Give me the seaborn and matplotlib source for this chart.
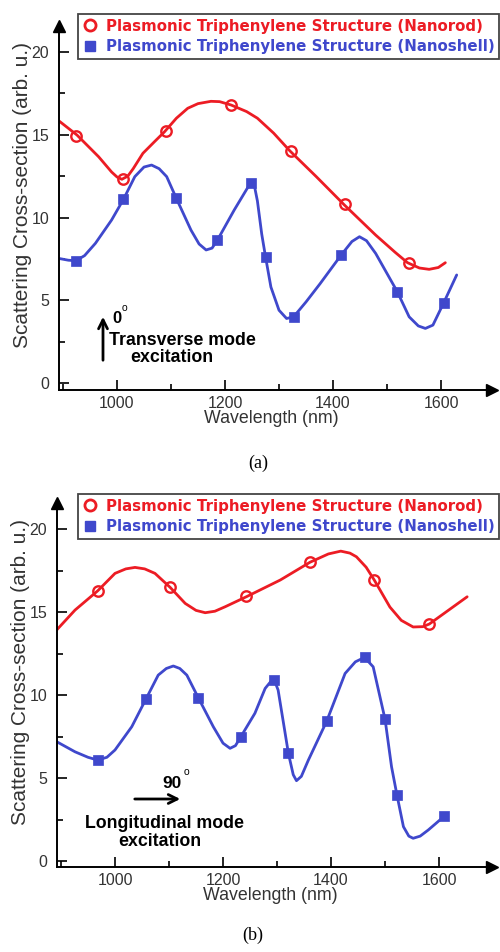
import matplotlib
matplotlib.use("Agg")
import matplotlib.pyplot as plt
from matplotlib.lines import Line2D
from matplotlib.ticker import MultipleLocator
import seaborn as sns

# ---------------- data ----------------
# Panel (a): transverse mode excitation
a_rod_curve_x = [892, 926, 966, 990, 1000, 1009, 1020, 1030, 1048, 1070, 1088, 1110, 1131, 1150, 1174, 1190, 1211, 1240, 1260, 1290, 1320, 1369, 1421, 1479, 1515, 1538, 1560, 1578, 1595, 1608]
a_rod_curve_y = [15.85, 14.98, 13.67, 12.75, 12.45, 12.31, 12.5, 12.95, 13.88, 14.6, 15.18, 16.0, 16.6, 16.88, 17.02, 17.0, 16.8, 16.4, 16.0, 15.1, 14.03, 12.47, 10.76, 8.94, 7.9, 7.27, 6.95, 6.87, 6.98, 7.27]
a_rod_mark_x = [924, 1011, 1091, 1211, 1322, 1423, 1540]
a_rod_mark_y = [14.9, 12.3, 15.2, 16.8, 14.0, 10.8, 7.27]

a_shell_curve_x = [892, 910, 924, 940, 960, 990, 1012, 1033, 1050, 1064, 1078, 1092, 1110, 1137, 1152, 1165, 1176, 1186, 1217, 1240, 1247, 1253, 1260, 1268, 1275, 1285, 1300, 1314, 1327, 1350, 1376, 1415, 1435, 1449, 1462, 1479, 1519, 1541, 1558, 1571, 1585, 1605, 1629]
a_shell_curve_y = [7.53, 7.42, 7.39, 7.7, 8.44, 9.85, 11.1, 12.47, 13.05, 13.17, 12.95, 12.47, 11.15, 9.24, 8.4, 8.04, 8.15, 8.64, 10.45, 11.7, 12.06, 12.15, 11.0, 9.0, 7.63, 5.8, 4.4, 3.9, 4.0, 4.9, 6.0, 7.73, 8.55, 8.84, 8.6, 7.83, 5.52, 4.0, 3.45, 3.3, 3.5, 4.85, 6.53]
a_shell_mark_x = [924, 1011, 1110, 1186, 1248, 1275, 1328, 1415, 1519, 1606]
a_shell_mark_y = [7.4, 11.1, 11.15, 8.64, 12.08, 7.63, 4.0, 7.73, 5.52, 4.85]

# Panel (b): longitudinal mode excitation
b_rod_curve_x = [892, 926, 968, 1000, 1020, 1037, 1055, 1074, 1102, 1130, 1150, 1167, 1185, 1204, 1245, 1306, 1361, 1395, 1418, 1435, 1447, 1465, 1480, 1509, 1530, 1552, 1570, 1582, 1652]
b_rod_curve_y = [13.92, 15.12, 16.28, 17.33, 17.6, 17.69, 17.6, 17.33, 16.49, 15.52, 15.1, 14.96, 15.05, 15.32, 15.95, 16.93, 18.0, 18.5, 18.67, 18.55, 18.33, 17.7, 16.93, 15.3, 14.5, 14.1, 14.12, 14.28, 15.92]
b_rod_mark_x = [968, 1102, 1243, 1361, 1480, 1582]
b_rod_mark_y = [16.28, 16.49, 15.95, 18.0, 16.93, 14.28]

b_shell_curve_x = [892, 926, 950, 968, 985, 1000, 1031, 1057, 1080, 1095, 1108, 1120, 1133, 1154, 1182, 1200, 1213, 1223, 1233, 1259, 1278, 1288, 1295, 1302, 1312, 1321, 1330, 1336, 1345, 1358, 1392, 1426, 1445, 1462, 1478, 1500, 1512, 1522, 1534, 1544, 1552, 1565, 1580, 1610]
b_shell_curve_y = [7.19, 6.58, 6.25, 6.08, 6.25, 6.69, 8.09, 9.74, 11.2, 11.6, 11.75, 11.6, 11.2, 9.85, 8.09, 7.1, 6.79, 6.95, 7.49, 8.9, 10.4, 10.8, 10.9, 10.3, 8.3, 6.49, 5.2, 4.84, 5.1, 6.08, 8.43, 11.3, 12.0, 12.27, 11.7, 8.54, 5.68, 3.98, 2.07, 1.5, 1.37, 1.5, 1.87, 2.71]
b_shell_mark_x = [968, 1057, 1154, 1233, 1295, 1321, 1392, 1462, 1500, 1522, 1610]
b_shell_mark_y = [6.08, 9.74, 9.85, 7.49, 10.9, 6.49, 8.43, 12.27, 8.54, 3.98, 2.71]

legend_labels = ["Plasmonic Triphenylene Structure (Nanorod)",
                 "Plasmonic Triphenylene Structure (Nanoshell)"]
x_label = "Wavelength (nm)"
y_label = "Scattering Cross-section (arb. u.)"
captions = ["(a)", "(b)"]

# ---------------- styling ----------------
sns.set_theme(style="white")
plt.rcParams['font.family'] = ['Liberation Sans', 'DejaVu Sans']

RED = "#ec1c24"
BLUE = "#3f48cc"
TXT = "#333333"
W, H = 500, 952

fig = plt.figure(figsize=(W / 100, H / 100), dpi=100)


def rect(l, t, r, b):
    return [l / W, 1 - b / H, (r - l) / W, (b - t) / H]


def fx(px):
    return px / W


def fy(py):
    return 1 - py / H


def draw_panel(ax, rcx, rcy, rmx, rmy, scx, scy, smx, smy, xlim, ylim):
    sns.lineplot(x=rcx, y=rcy, ax=ax, color=RED, lw=2.0, estimator=None, sort=False)
    sns.lineplot(x=rmx, y=rmy, ax=ax, color=RED, estimator=None, sort=False,
                 linestyle='', marker='o', markersize=7.5, markerfacecolor='none',
                 markeredgecolor=RED, markeredgewidth=1.7)
    sns.lineplot(x=scx, y=scy, ax=ax, color=BLUE, lw=2.0, estimator=None, sort=False)
    sns.lineplot(x=smx, y=smy, ax=ax, color=BLUE, estimator=None, sort=False,
                 linestyle='', marker='s', markersize=7, markerfacecolor=BLUE,
                 markeredgecolor=BLUE, markeredgewidth=0.5)
    ax.set_xlim(*xlim)
    ax.set_ylim(*ylim)
    for s in ['top', 'right']:
        ax.spines[s].set_visible(False)
    for s in ['left', 'bottom']:
        ax.spines[s].set_color('black')
        ax.spines[s].set_linewidth(1.4)
    ax.xaxis.set_major_locator(MultipleLocator(200))
    ax.xaxis.set_minor_locator(MultipleLocator(100))
    ax.yaxis.set_major_locator(MultipleLocator(5))
    ax.yaxis.set_minor_locator(MultipleLocator(2.5))
    ax.tick_params(which='major', direction='in', length=7, width=1.2, color='black',
                   labelsize=11.5, labelcolor=TXT, left=True, bottom=True, pad=7)
    ax.tick_params(which='minor', direction='in', length=4, width=1.2, color='black',
                   left=True, bottom=True)
    ax.tick_params(axis='x', which='major', pad=4)
    ax.set_xlabel(x_label, fontsize=12.8, color=TXT)
    ax.set_ylabel(y_label, fontsize=15, color=TXT)
    ax.xaxis.set_label_coords(0.49, -0.055)
    ax.yaxis.set_label_coords(-0.063, 0.536)
    # axis arrow heads
    ax.plot(1, 0, '>', color='black', ms=9, transform=ax.transAxes, clip_on=False)
    ax.plot(0, 1, '^', color='black', ms=9, transform=ax.transAxes, clip_on=False)
    ax.set_facecolor('white')
    ax.grid(False)


def legend(ax, top_px):
    handles = [Line2D([], [], linestyle='', marker='o', markersize=8, markerfacecolor='none',
                      markeredgecolor=RED, markeredgewidth=2),
               Line2D([], [], linestyle='', marker='s', markersize=7, markerfacecolor=BLUE,
                      markeredgecolor=BLUE)]
    leg = ax.legend(handles, legend_labels, loc='upper right',
                    bbox_to_anchor=(fx(499), fy(top_px)), bbox_transform=fig.transFigure,
                    frameon=True, fancybox=False, shadow=False, borderaxespad=0,
                    prop=dict(family='DejaVu Sans', weight='bold', size=10.8),
                    labelcolor=[RED, BLUE], handlelength=1.0, handletextpad=0.55,
                    borderpad=0.3, labelspacing=0.4, framealpha=1)
    leg.get_frame().set_edgecolor('#444444')
    leg.get_frame().set_linewidth(1.3)


axa = fig.add_axes(rect(59, 26, 492, 390))
draw_panel(axa, a_rod_curve_x, a_rod_curve_y, a_rod_mark_x, a_rod_mark_y,
           a_shell_curve_x, a_shell_curve_y, a_shell_mark_x, a_shell_mark_y,
           (892.6, 1694.4), (-0.42, 21.57))
legend(axa, 14)
# blue tick at 5 in panel (a)
for t in axa.yaxis.get_major_ticks():
    if abs(t.get_loc() - 5) < 1e-6:
        t.tick1line.set_color(BLUE)

axb = fig.add_axes(rect(57, 503, 492, 867))
draw_panel(axb, b_rod_curve_x, b_rod_curve_y, b_rod_mark_x, b_rod_mark_y,
           b_shell_curve_x, b_shell_curve_y, b_shell_mark_x, b_shell_mark_y,
           (892.6, 1698.0), (-0.36, 21.57))
legend(axb, 494)

ANN = 12.8

# annotations panel (a)
fig.add_artist(matplotlib.patches.FancyArrowPatch(
    (fx(103), fy(363)), (fx(103), fy(314)), transform=fig.transFigure,
    arrowstyle='->', mutation_scale=16, lw=2, color='black'))
fig.text(fx(112), fy(323), '0', fontsize=12, weight='bold', color='black', va='baseline')
fig.text(fx(122), fy(311), 'o', fontsize=7.5, color='black', va='baseline')
fig.text(fx(109), fy(340), 'Transverse mode', fontsize=ANN, weight='bold', color='black', va='center')
fig.text(fx(130), fy(358), 'excitation', fontsize=ANN, weight='bold', color='black', va='center')

# annotations panel (b)
fig.add_artist(matplotlib.patches.FancyArrowPatch(
    (fx(132), fy(799)), (fx(183), fy(799)), transform=fig.transFigure,
    arrowstyle='->', mutation_scale=16, lw=2, color='black'))
fig.text(fx(162), fy(788), '90', fontsize=12.5, weight='bold', color='black', va='baseline')
fig.text(fx(183.5), fy(775), 'o', fontsize=7.5, color='black', va='baseline')
fig.text(fx(85), fy(823), 'Longitudinal mode', fontsize=ANN, weight='bold', color='black', va='center')
fig.text(fx(118), fy(841), 'excitation', fontsize=ANN, weight='bold', color='black', va='center')

# captions
fig.text(fx(258), fy(463), captions[0], family='Liberation Serif', fontsize=13, ha='center', va='center', color='black')
fig.text(fx(253), fy(935), captions[1], family='Liberation Serif', fontsize=13, ha='center', va='center', color='black')

fig.savefig("out.png", dpi=100, facecolor='white')
